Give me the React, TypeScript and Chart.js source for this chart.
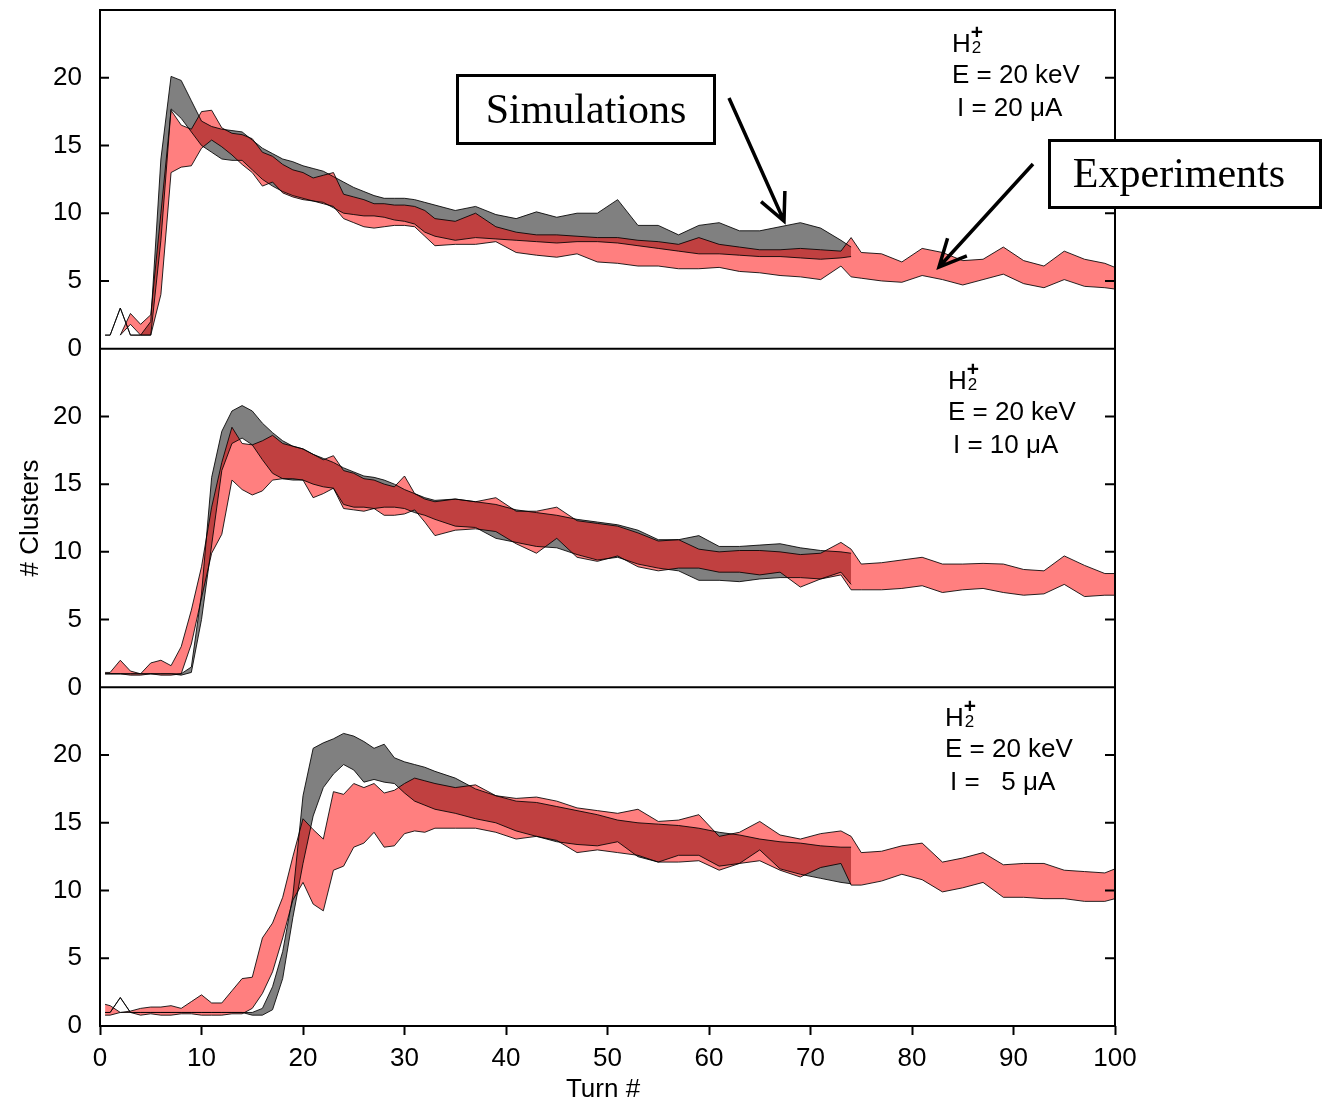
import React, { useEffect, useRef } from "react";
import { Chart, registerables } from "chart.js";

Chart.register(...registerables);

const N = null;

const TURNS = [
  0.5,
  1, 2, 3, 4, 5, 6, 7, 8, 9, 10,
  11, 12, 13, 14, 15, 16, 17, 18, 19, 20,
  21, 22, 23, 24, 25, 26, 27, 28, 29, 30, 31, 32,
  33, 35, 37, 39, 41, 43, 45, 47, 49, 51, 53,
  55, 57, 59, 61, 63, 65, 67, 69, 71, 73,
  74,
  75, 77, 79, 81, 83, 85, 87, 89, 91, 93, 95, 97, 99,
  100,
];

const X_TICKS = [0, 10, 20, 30, 40, 50, 60, 70, 80, 90, 100];
const Y_TICKS = [0, 5, 10, 15, 20];
const Y_RIGHT_TICKS = [5, 10, 15, 20];
const CURRENTS = ["I = 20 \u03bcA", "I = 10 \u03bcA", "I =   5 \u03bcA"];

// ---- Panel 1 : I = 20 uA ----
const P1_GREY_LO = [1,
  1, 3, 1, 1, 1, 8, 17.7, 17.0, 16.0, 15.0,
  14.5, 14.0, 13.9, 13.9, 13.2, 12.5, 12.0, 11.6, 11.3, 11.1,
  10.9, 10.8, 10.4, 10.0, 9.9, 9.8, 9.8, 9.7, 9.5, 9.4, 9.2, 8.6,
  8.3, 8.0, 8.2, 8.1, 8.0, 7.9, 7.8, 7.9, 7.9, 7.8, 7.6,
  7.4, 7.2, 7.0, 7.0, 6.9, 6.8, 6.8, 6.7, 6.6, 6.7,
  6.8];
const P1_GREY_HI = [1,
  1, 3, 1, 1, 2, 14, 20.1, 19.8, 18.3, 16.8,
  16.4, 16.2, 16.1, 16.0, 15.4, 14.8, 14.4, 14.0, 13.8, 13.5,
  13.3, 13.1, 12.7, 12.3, 11.9, 11.6, 11.3, 11.1, 11.1, 11.1, 11.0, 10.8,
  10.6, 10.2, 10.5, 9.9, 9.6, 10.1, 9.7, 10.0, 10.0, 11.0, 9.1,
  9.1, 8.4, 9.1, 9.3, 8.7, 8.7, 9.0, 9.3, 8.9, 8.0,
  7.5];
const P1_RED_LO = [N,
  N, 1.0, 1.8, 1.0, 1.0, 4.0, 13.0, 13.4, 13.5, 14.8,
  15.4, 14.9, 14.3, 13.6, 13.0, 12.0, 12.3, 11.5, 11.2, 11.0,
  10.9, 10.7, 10.5, 9.6, 9.3, 9.0, 8.9, 9.0, 9.1, 9.1, 9.0, 8.3,
  7.6, 7.7, 7.7, 7.9, 7.1, 6.9, 6.75, 7.0, 6.4, 6.3, 6.1,
  6.1, 5.9, 5.9, 6.0, 5.7, 5.6, 5.4, 5.3, 5.1, 6.1,
  5.3,
  5.2, 5.0, 4.9, 5.4, 5.1, 4.7, 5.1, 5.5, 4.8, 4.5, 5.1, 4.6, 4.5,
  4.4];
const P1_RED_HI = [N,
  N, 1.0, 2.6, 1.8, 2.5, 10, 17.6, 16.5, 16.2, 17.5,
  17.6, 16.3, 15.9, 15.8, 15.5, 14.5, 14.2, 13.6, 13.2, 13.0,
  12.6, 12.8, 13.0, 11.4, 11.2, 11.0, 10.7, 10.7, 10.6, 10.6, 10.5, 10.2,
  9.6, 9.4, 10.0, 9.0, 8.6, 8.4, 8.4, 8.3, 8.2, 8.2, 8.0,
  7.9, 7.7, 8.2, 7.7, 7.5, 7.3, 7.3, 7.4, 7.3, 7.2,
  8.2,
  7.1, 7.0, 6.4, 7.4, 7.1, 6.5, 6.6, 7.5, 6.5, 6.1, 7.2, 6.6, 6.3,
  6.0];

// ---- Panel 2 : I = 10 uA ----
const P2_GREY_LO = [1,
  1, 1, 1, 1, 1, 1, 1, 0.9, 1.1, 5.0,
  10.5, 16.0, 18.0, 18.4, 17.9, 16.8, 15.8, 15.4, 15.3, 15.3,
  15.0, 14.8, 14.7, 13.5, 13.3, 13.3, 13.2, 13.3, 13.3, 13.2, 12.9, 12.7,
  12.4, 11.9, 11.8, 11.0, 10.7, 10.4, 10.3, 9.8, 9.4, 9.6, 9.1,
  8.8, 8.6, 7.9, 7.9, 7.8, 8.0, 8.1, 8.1, 8.0, 8.5,
  7.6];
const P2_GREY_HI = [1,
  1, 1, 1, 1, 1, 1, 1, 1, 1.5, 6.9,
  15.5, 18.9, 20.4, 20.8, 20.4, 19.5, 18.8, 18.2, 17.8, 17.6,
  17.2, 16.9, 16.6, 16.2, 15.9, 15.6, 15.5, 15.3, 15.0, 14.6, 14.3, 14.0,
  13.8, 13.9, 13.7, 13.5, 13.1, 12.9, 12.7, 12.4, 12.2, 12.0, 11.6,
  10.9, 10.9, 11.2, 10.4, 10.4, 10.5, 10.6, 10.3, 10.1, 10.0,
  9.9];
const P2_RED_LO = [1.0,
  1.0, 1.0, 0.9, 0.9, 1.0, 0.9, 0.9, 1.0, 3.2, 6.6,
  9.9, 11.3, 15.3, 14.6, 14.2, 14.5, 15.3, 15.4, 15.4, 15.3,
  14.0, 14.3, 14.7, 13.2, 13.1, 13.0, 13.2, 12.7, 12.7, 12.8, 13.1, 12.2,
  11.2, 11.6, 11.7, 11.5, 10.6, 9.9, 11.0, 9.6, 9.3, 9.7, 8.9,
  8.6, 8.8, 8.8, 8.5, 8.5, 8.3, 8.5, 7.4, 8.0, 8.3,
  7.2,
  7.2, 7.2, 7.3, 7.5, 7.0, 7.2, 7.3, 7.0, 6.8, 6.9, 7.6, 6.7, 6.8,
  6.8];
const P2_RED_HI = [1.1,
  1.1, 2.0, 1.2, 1.0, 1.8, 2.0, 1.6, 3.0, 5.7, 8.9,
  13.3, 16.6, 19.2, 18.0, 17.9, 18.2, 18.6, 18.0, 17.8, 17.6,
  17.2, 16.8, 17.1, 16.0, 15.8, 15.4, 15.3, 15.0, 14.8, 15.6, 14.3, 13.9,
  13.7, 13.9, 13.7, 14.0, 13.0, 13.0, 13.3, 12.3, 12.1, 11.9, 11.4,
  10.8, 10.9, 10.2, 10.0, 10.1, 10.1, 10.0, 9.8, 9.9, 10.7,
  10.2,
  9.1, 9.2, 9.4, 9.6, 9.1, 9.1, 9.15, 9.1, 8.7, 8.6, 9.7, 9.0, 8.4,
  8.4];

// ---- Panel 3 : I = 5 uA ----
const P3_GREY_LO = [1,
  1, 2.1, 1, 1, 1, 1, 1, 1, 1, 1,
  1, 1, 1, 1, 0.8, 0.8, 1.2, 3.5, 8.0, 12.0,
  15.5, 17.6, 18.6, 19.3, 18.9, 18.0, 18.2, 18.0, 17.9, 17.2, 16.6, 16.3,
  16.0, 15.7, 15.3, 15.0, 14.4, 14.0, 13.6, 13.4, 13.3, 13.6, 12.5,
  12.1, 12.6, 12.6, 11.8, 12.0, 13.0, 11.6, 11.2, 10.9, 10.6,
  10.5];
const P3_GREY_HI = [1,
  1, 2.1, 1, 1, 1, 1, 1, 1, 1, 1,
  1, 1, 1, 1, 1, 1.3, 2.9, 5.5, 9.6, 17.0,
  20.5, 20.9, 21.2, 21.6, 21.4, 21.0, 20.5, 20.8, 19.8, 19.5, 19.3, 19.1,
  18.8, 18.3, 17.5, 17.0, 16.6, 16.5, 16.2, 15.9, 15.6, 15.2, 15.0,
  14.9, 14.8, 14.6, 14.3, 14.1, 13.8, 13.6, 13.5, 13.3, 13.2,
  13.2];
const P3_RED_LO = [0.8,
  0.8, 1.0, 1.0, 0.8, 0.9, 0.8, 0.8, 0.9, 0.9, 0.8,
  0.8, 0.8, 0.9, 0.9, 1.3, 2.4, 4.0, 6.5, 9.3, 10.6,
  9.0, 8.5, 11.5, 11.8, 13.2, 13.5, 14.3, 13.2, 13.3, 14.2, 14.4, 14.3,
  14.6, 14.6, 14.6, 14.3, 13.8, 14.0, 13.7, 12.8, 13.0, 12.8, 12.6,
  12.1, 12.1, 12.2, 11.5, 12.0, 12.2, 11.5, 11.0, 11.7, 12.0,
  10.4,
  10.4, 10.7, 11.2, 10.8, 9.9, 10.2, 10.6, 9.5, 9.5, 9.4, 9.4, 9.2, 9.2,
  9.4];
const P3_RED_HI = [1.6,
  1.5, 1.0, 1.1, 1.3, 1.4, 1.4, 1.5, 1.3, 1.8, 2.3,
  1.7, 1.7, 2.6, 3.5, 3.6, 6.5, 7.6, 9.5, 12.5, 15.3,
  14.5, 13.8, 17.3, 17.1, 17.9, 17.6, 17.9, 17.2, 17.4, 17.9, 18.3, 18.1,
  17.9, 17.6, 17.8, 17.0, 16.8, 16.9, 16.6, 16.1, 15.9, 15.7, 16.0,
  15.1, 15.2, 15.6, 14.0, 14.3, 15.1, 14.1, 13.8, 14.2, 14.4,
  14.0,
  12.8, 12.9, 13.3, 13.5, 12.1, 12.4, 12.8, 11.9, 12.0, 12.0, 11.5, 11.4, 11.3,
  11.6];

const GREY = "#808080";
const RED = "rgba(255,0,0,0.5)";
const EDGE = "rgba(0,0,0,0.85)";
const SANS = "'Liberation Sans', Arial, Helvetica, sans-serif";
const SERIF = "'Liberation Serif', 'Times New Roman', serif";

function pts(values: (number | null)[]) {
  return TURNS.map((t, i) => ({ x: t, y: values[i] === undefined ? null : values[i] }));
}

function band(axis: string, lo: (number | null)[], hi: (number | null)[], color: string, order: number) {
  return [
    { data: pts(lo), yAxisID: axis, xAxisID: "x", fill: false, borderColor: EDGE, borderWidth: 1, order },
    { data: pts(hi), yAxisID: axis, xAxisID: "x", fill: "-1", backgroundColor: color, borderColor: EDGE, borderWidth: 1, order },
  ];
}

function yAxis() {
  return {
    type: "linear",
    position: "left",
    stack: "panels",
    stackWeight: 1,
    min: 0,
    max: 25,
    afterBuildTicks: (s: any) => {
      s.ticks = Y_TICKS.map((v) => ({ value: v }));
    },
    ticks: {
      color: "#000",
      padding: 10,
      font: { size: 26, family: SANS },
    },
    grid: { display: false },
    border: { display: false },
    afterFit: (s: any) => {
      s.width = 100;
      s.paddingTop = 0;
      s.paddingBottom = 0;
    },
  };
}

function arrow(ctx: CanvasRenderingContext2D, x0: number, y0: number, x1: number, y1: number) {
  const a = Math.atan2(y1 - y0, x1 - x0);
  const L = 30;
  const spread = 0.45;
  ctx.beginPath();
  ctx.moveTo(x0, y0);
  ctx.lineTo(x1, y1);
  ctx.moveTo(x1 - L * Math.cos(a - spread), y1 - L * Math.sin(a - spread));
  ctx.lineTo(x1, y1);
  ctx.lineTo(x1 - L * Math.cos(a + spread), y1 - L * Math.sin(a + spread));
  ctx.stroke();
}

const decorations = {
  id: "decorations",
  afterDraw(chart: any) {
    const ctx: CanvasRenderingContext2D = chart.ctx;
    const ca = chart.chartArea;
    const panels = [chart.scales.yTop, chart.scales.yMid, chart.scales.yBot];
    ctx.save();
    ctx.strokeStyle = "#000";
    ctx.fillStyle = "#000";
    ctx.lineWidth = 2;
    ctx.strokeRect(ca.left, ca.top, ca.right - ca.left, ca.bottom - ca.top);
    ctx.beginPath();
    [panels[1].top, panels[2].top].forEach((y: number) => {
      ctx.moveTo(ca.left, y);
      ctx.lineTo(ca.right, y);
    });
    // inward ticks
    panels.forEach((s: any) => {
      Y_TICKS.forEach((v) => {
        const y = s.getPixelForValue(v);
        ctx.moveTo(ca.left, y);
        ctx.lineTo(ca.left + 9, y);
      });
      Y_RIGHT_TICKS.forEach((v) => {
        const y = s.getPixelForValue(v);
        ctx.moveTo(ca.right - 10, y);
        ctx.lineTo(ca.right, y);
      });
    });
    ctx.stroke();

    // panel labels
    const lx = [952, 948, 945];
    const hOff = [42, 40, 39];
    panels.forEach((s: any, i: number) => {
      const top = s.top;
      const x = lx[i];
      ctx.textAlign = "left";
      ctx.textBaseline = "alphabetic";
      ctx.font = `26px ${SANS}`;
      ctx.fillText("H", x, top + hOff[i]);
      const w = ctx.measureText("H").width;
      ctx.font = `17px ${SANS}`;
      ctx.fillText("2", x + w + 1, top + hOff[i] + 1);
      ctx.font = `bold 21px ${SANS}`;
      ctx.fillText("+", x + w, top + hOff[i] - 13);
      ctx.font = `26px ${SANS}`;
      ctx.fillText("E = 20 keV", x, top + hOff[i] + 31);
      ctx.fillText(CURRENTS[i], x + 5, top + hOff[i] + 64);
    });

    // axis titles
    ctx.font = `26px ${SANS}`;
    ctx.textAlign = "center";
    ctx.textBaseline = "middle";
    ctx.fillText("Turn #", 603, 1090);
    ctx.save();
    ctx.translate(31, (ca.top + ca.bottom) / 2);
    ctx.rotate(-Math.PI / 2);
    ctx.fillText("# Clusters", 0, 0);
    ctx.restore();

    // callout boxes
    ctx.lineWidth = 3;
    ctx.fillStyle = "#fff";
    ctx.fillRect(457.5, 75.5, 257, 68);
    ctx.strokeRect(457.5, 75.5, 257, 68);
    ctx.fillRect(1049.5, 140.5, 271, 67);
    ctx.strokeRect(1049.5, 140.5, 271, 67);
    ctx.fillStyle = "#000";
    ctx.font = `42px ${SERIF}`;
    ctx.fillText("Simulations", 586, 112);
    ctx.fillText("Experiments", 1179, 176);
    ctx.lineWidth = 3.5;
    arrow(ctx, 729, 98, 784, 221);
    arrow(ctx, 1033, 164, 939, 267);
    ctx.restore();
  },
};

export default function App() {
  const ref = useRef<HTMLCanvasElement | null>(null);

  useEffect(() => {
    if (!ref.current) return;
    const datasets = [
      ...band("yTop", P1_RED_LO, P1_RED_HI, RED, 0),
      ...band("yMid", P2_RED_LO, P2_RED_HI, RED, 0),
      ...band("yBot", P3_RED_LO, P3_RED_HI, RED, 0),
      ...band("yTop", P1_GREY_LO, P1_GREY_HI, GREY, 1),
      ...band("yMid", P2_GREY_LO, P2_GREY_HI, GREY, 1),
      ...band("yBot", P3_GREY_LO, P3_GREY_HI, GREY, 1),
    ];
    const chart = new Chart(ref.current, {
      type: "line",
      data: { datasets } as any,
      options: {
        animation: false,
        responsive: false,
        maintainAspectRatio: false,
        layout: { padding: { top: 10, right: 208, left: 0, bottom: 0 } },
        elements: { point: { radius: 0 }, line: { tension: 0 } },
        plugins: {
          legend: { display: false },
          tooltip: { enabled: false },
          filler: { propagate: false, drawTime: "beforeDatasetsDraw" },
        },
        scales: {
          x: {
            type: "linear",
            position: "bottom",
            min: 0,
            max: 100,
            afterBuildTicks: (s: any) => {
              s.ticks = X_TICKS.map((v) => ({ value: v }));
            },
            ticks: { color: "#000", padding: 8, font: { size: 26, family: SANS } },
            grid: { display: true, drawOnChartArea: false, drawTicks: true, tickLength: 9, tickWidth: 2, tickColor: "#000" },
            border: { display: false },
            afterFit: (s: any) => {
              s.height = 79;
              s.paddingLeft = 0;
              s.paddingRight = 0;
            },
          },
          // stacked panels: the last listed is placed on top
          yBot: yAxis(),
          yMid: yAxis(),
          yTop: yAxis(),
        },
      } as any,
      plugins: [decorations],
    });
    return () => chart.destroy();
  }, []);

  return (
    <canvas
      ref={ref}
      width={1323}
      height={1105}
      style={{ position: "absolute", left: 0, top: 0, display: "block", background: "#fff" }}
    />
  );
}
